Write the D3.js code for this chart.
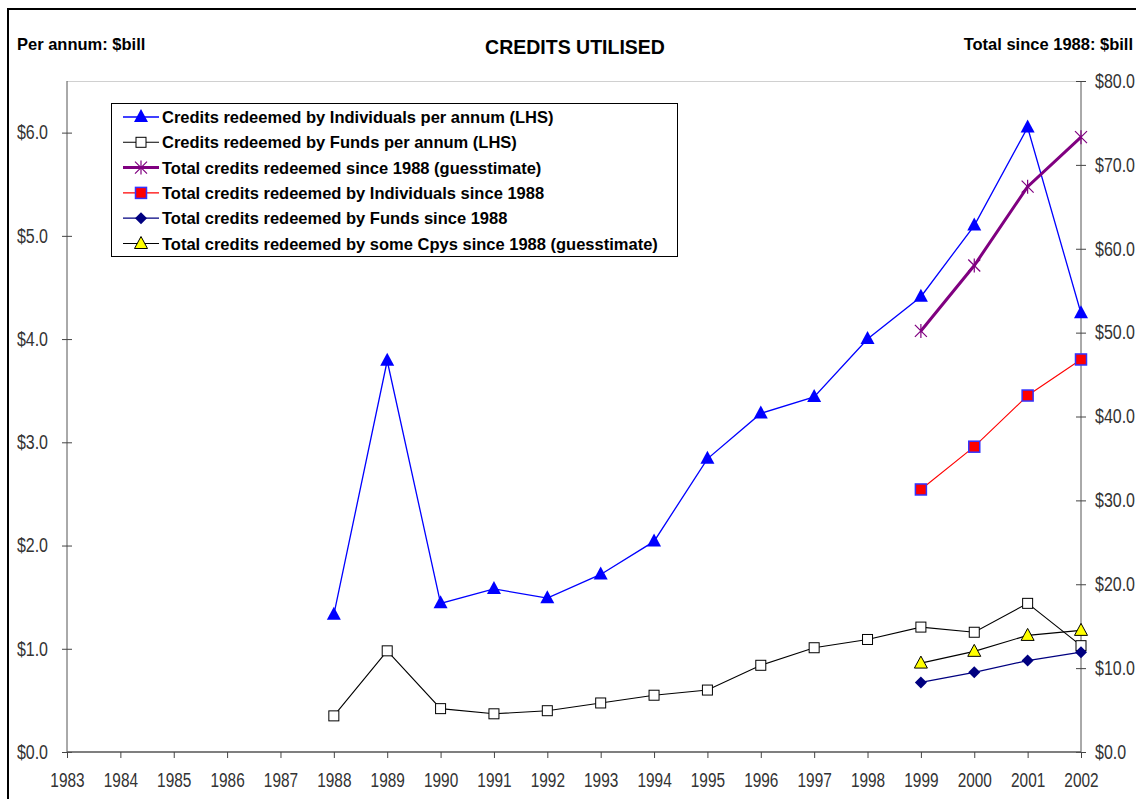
<!DOCTYPE html>
<html>
<head>
<meta charset="utf-8">
<script src="https://cdn.jsdelivr.net/npm/d3@7"></script>
<style>
  body { margin: 0; background: #fff; }
  svg { display: block; }
  .bold { font-family: "Liberation Sans", Arial, sans-serif; font-weight: bold; fill: #000; }
  .tick text { font-family: "Liberation Sans", Arial, sans-serif; font-size: 19.5px; fill: #333; }
</style>
</head>
<body>
<script>
// years on the category axis
var years = d3.range(1983, 2003);

// per annum series (LHS, $bill), from 1988
var yearsPA = [1988, 1989, 1990, 1991, 1992, 1993, 1994, 1995, 1996, 1997, 1998, 1999, 2000, 2001, 2002];
var indivPA = [1.33, 3.79, 1.44, 1.58, 1.49, 1.72, 2.04, 2.84, 3.28, 3.44, 4.00, 4.41, 5.10, 6.05, 4.25];
var fundsPA = [0.35, 0.98, 0.42, 0.37, 0.40, 0.475, 0.55, 0.60, 0.84, 1.01, 1.09, 1.21, 1.16, 1.44, 1.03];

// totals since 1988 (RHS, $bill), from 1999
var yearsTot = [1999, 2000, 2001, 2002];
var totalAll = [50.2, 58.0, 67.4, 73.3];
var totalIndiv = [31.3, 36.4, 42.5, 46.8];
var totalFunds = [8.3, 9.5, 10.9, 11.9];
var totalCpys = [10.6, 12.0, 13.9, 14.5];

var legendLabels = [
	"Credits redeemed by Individuals per annum (LHS)",
	"Credits redeemed by Funds per annum (LHS)",
	"Total credits redeemed since 1988 (guesstimate)",
	"Total credits redeemed by Individuals since 1988",
	"Total credits redeemed by Funds since 1988",
	"Total credits redeemed by some Cpys since 1988 (guesstimate)"
];

var W = 1136, H = 799;
var pLeft = 67, pRight = 1081, pTop = 81, pBottom = 752;

var svg = d3.select("body").append("svg").attr("width", W).attr("height", H);

// outer frame
svg.append("rect").attr("x", 8).attr("y", 9).attr("width", 1140).attr("height", 820)
	.attr("fill", "none").attr("stroke", "#000").attr("stroke-width", 2);

var x = d3.scalePoint().domain(years).range([pLeft, pRight]);
var yL = d3.scaleLinear().domain([0, 6.5]).range([pBottom, pTop]);
var yR = d3.scaleLinear().domain([0, 80]).range([pBottom, pTop]);

// top border of plot area
svg.append("line").attr("x1", pLeft).attr("x2", pRight).attr("y1", pTop + 0.5).attr("y2", pTop + 0.5)
	.attr("stroke", "#d0d0d0").attr("stroke-width", 1);

// titles
svg.append("text").attr("class", "bold").attr("x", 17).attr("y", 50).attr("font-size", 16.5).text("Per annum: $bill");
svg.append("text").attr("class", "bold").attr("x", 575).attr("y", 54).attr("font-size", 19.5)
	.attr("text-anchor", "middle").text("CREDITS UTILISED");
svg.append("text").attr("class", "bold").attr("x", 1133).attr("y", 50).attr("font-size", 16.5)
	.attr("text-anchor", "end").text("Total since 1988: $bill");

// narrow the tick labels (condensed look of the original)
function narrow(sel, k) {
	sel.selectAll(".tick text").each(function () {
		var len = this.getComputedTextLength();
		if (len > 0) d3.select(this).attr("textLength", len * k).attr("lengthAdjust", "spacingAndGlyphs");
	});
}

// left axis: minor ticks outside, labelled majors crossing
var gL = svg.append("g").attr("transform", "translate(" + pLeft + ",0)");
gL.call(d3.axisLeft(yL).tickValues(d3.range(0, 6.5, 0.2)).tickSize(5).tickFormat(""));
gL.call(d3.axisLeft(yL).tickValues(d3.range(0, 6.5, 1)).tickSize(5).tickPadding(14)
	.tickFormat(function (d) { return "$" + d3.format(".1f")(d); }));
gL.selectAll("g.tick").filter(function (d) { return Math.abs(d % 1) < 1e-9; }).select("line")
	.attr("x1", 5);
gL.select(".domain").attr("stroke", "#555").attr("d", "M0," + pTop + "V" + pBottom);
narrow(gL, 0.82);

// right axis
var gR = svg.append("g").attr("transform", "translate(" + pRight + ",0)");
gR.call(d3.axisRight(yR).tickValues(d3.range(0, 81, 2)).tickSize(5).tickFormat(""));
gR.call(d3.axisRight(yR).tickValues(d3.range(0, 81, 10)).tickSize(5).tickPadding(9)
	.tickFormat(function (d) { return "$" + d3.format(".1f")(d); }));
gR.selectAll("g.tick line").filter(function (d) { return d % 10 === 0; })
	.attr("x1", -5);
gR.select(".domain").attr("stroke", "#555").attr("d", "M0," + pTop + "V" + pBottom);
narrow(gR, 0.82);

// bottom axis
var gX = svg.append("g").attr("transform", "translate(0," + pBottom + ")");
gX.call(d3.axisBottom(x).tickSize(6).tickPadding(15));
gX.select(".domain").attr("stroke", "#555").attr("stroke-width", 1.5).attr("d", "M" + pLeft + ",0H" + pRight);
narrow(gX, 0.79);
svg.selectAll(".tick line").attr("stroke", "#444");

// marker drawing
function marker(g, kind, cx, cy) {
	if (kind === "tri") {
		g.append("path").attr("d", "M" + cx + "," + (cy - 8) + "L" + (cx + 7) + "," + (cy + 5) + "L" + (cx - 7) + "," + (cy + 5) + "Z")
			.attr("fill", "#0000ff");
	} else if (kind === "sq") {
		g.append("rect").attr("x", cx - 5).attr("y", cy - 5).attr("width", 10).attr("height", 10)
			.attr("fill", "#fff").attr("stroke", "#000").attr("stroke-width", 1);
	} else if (kind === "star") {
		var s = 6;
		g.append("path").attr("d",
			"M" + (cx - s) + "," + (cy - s) + "L" + (cx + s) + "," + (cy + s) +
			"M" + (cx - s) + "," + (cy + s) + "L" + (cx + s) + "," + (cy - s) +
			"M" + cx + "," + (cy - s - 1) + "L" + cx + "," + (cy + s + 1))
			.attr("stroke", "#800080").attr("stroke-width", 1.2).attr("fill", "none");
	} else if (kind === "redsq") {
		g.append("rect").attr("x", cx - 5.5).attr("y", cy - 5.5).attr("width", 11).attr("height", 11)
			.attr("fill", "#ff0000").attr("stroke", "#3333ff").attr("stroke-width", 1.5);
	} else if (kind === "dia") {
		g.append("path").attr("d", "M" + cx + "," + (cy - 6) + "L" + (cx + 6) + "," + cy + "L" + cx + "," + (cy + 6) + "L" + (cx - 6) + "," + cy + "Z")
			.attr("fill", "#000080");
	} else if (kind === "ytri") {
		g.append("path").attr("d", "M" + cx + "," + (cy - 7) + "L" + (cx + 6.5) + "," + (cy + 5) + "L" + (cx - 6.5) + "," + (cy + 5) + "Z")
			.attr("fill", "#ffff00").attr("stroke", "#000").attr("stroke-width", 1);
	}
}

var series = [
	{ xs: yearsPA, vals: indivPA, y: yL, color: "#0000ff", width: 1.3, kind: "tri" },
	{ xs: yearsPA, vals: fundsPA, y: yL, color: "#000000", width: 1.1, kind: "sq" },
	{ xs: yearsTot, vals: totalAll, y: yR, color: "#800080", width: 3, kind: "star" },
	{ xs: yearsTot, vals: totalIndiv, y: yR, color: "#ff0000", width: 1.1, kind: "redsq" },
	{ xs: yearsTot, vals: totalFunds, y: yR, color: "#000080", width: 1.3, kind: "dia" },
	{ xs: yearsTot, vals: totalCpys, y: yR, color: "#000000", width: 1.1, kind: "ytri" }
];

var plot = svg.append("g");
series.forEach(function (s) {
	var pts = s.xs.map(function (yr, i) { return [x(yr), s.y(s.vals[i])]; });
	plot.append("path").attr("d", d3.line()(pts)).attr("fill", "none")
		.attr("stroke", s.color).attr("stroke-width", s.width);
	var mg = plot.append("g");
	pts.forEach(function (p) { marker(mg, s.kind, p[0], p[1]); });
});

// legend
var lg = svg.append("g");
lg.append("rect").attr("x", 111.5).attr("y", 103.5).attr("width", 566).attr("height", 153)
	.attr("fill", "#fff").attr("stroke", "#000").attr("stroke-width", 1);
series.forEach(function (s, i) {
	var ly = 117 + i * 25.3;
	lg.append("line").attr("x1", 123).attr("x2", 159).attr("y1", ly).attr("y2", ly)
		.attr("stroke", s.color).attr("stroke-width", s.width);
	marker(lg, s.kind, 141, ly);
	lg.append("text").attr("class", "bold").attr("x", 162).attr("y", ly + 6).attr("font-size", 16.5)
		.text(legendLabels[i]);
});
</script>
</body>
</html>
